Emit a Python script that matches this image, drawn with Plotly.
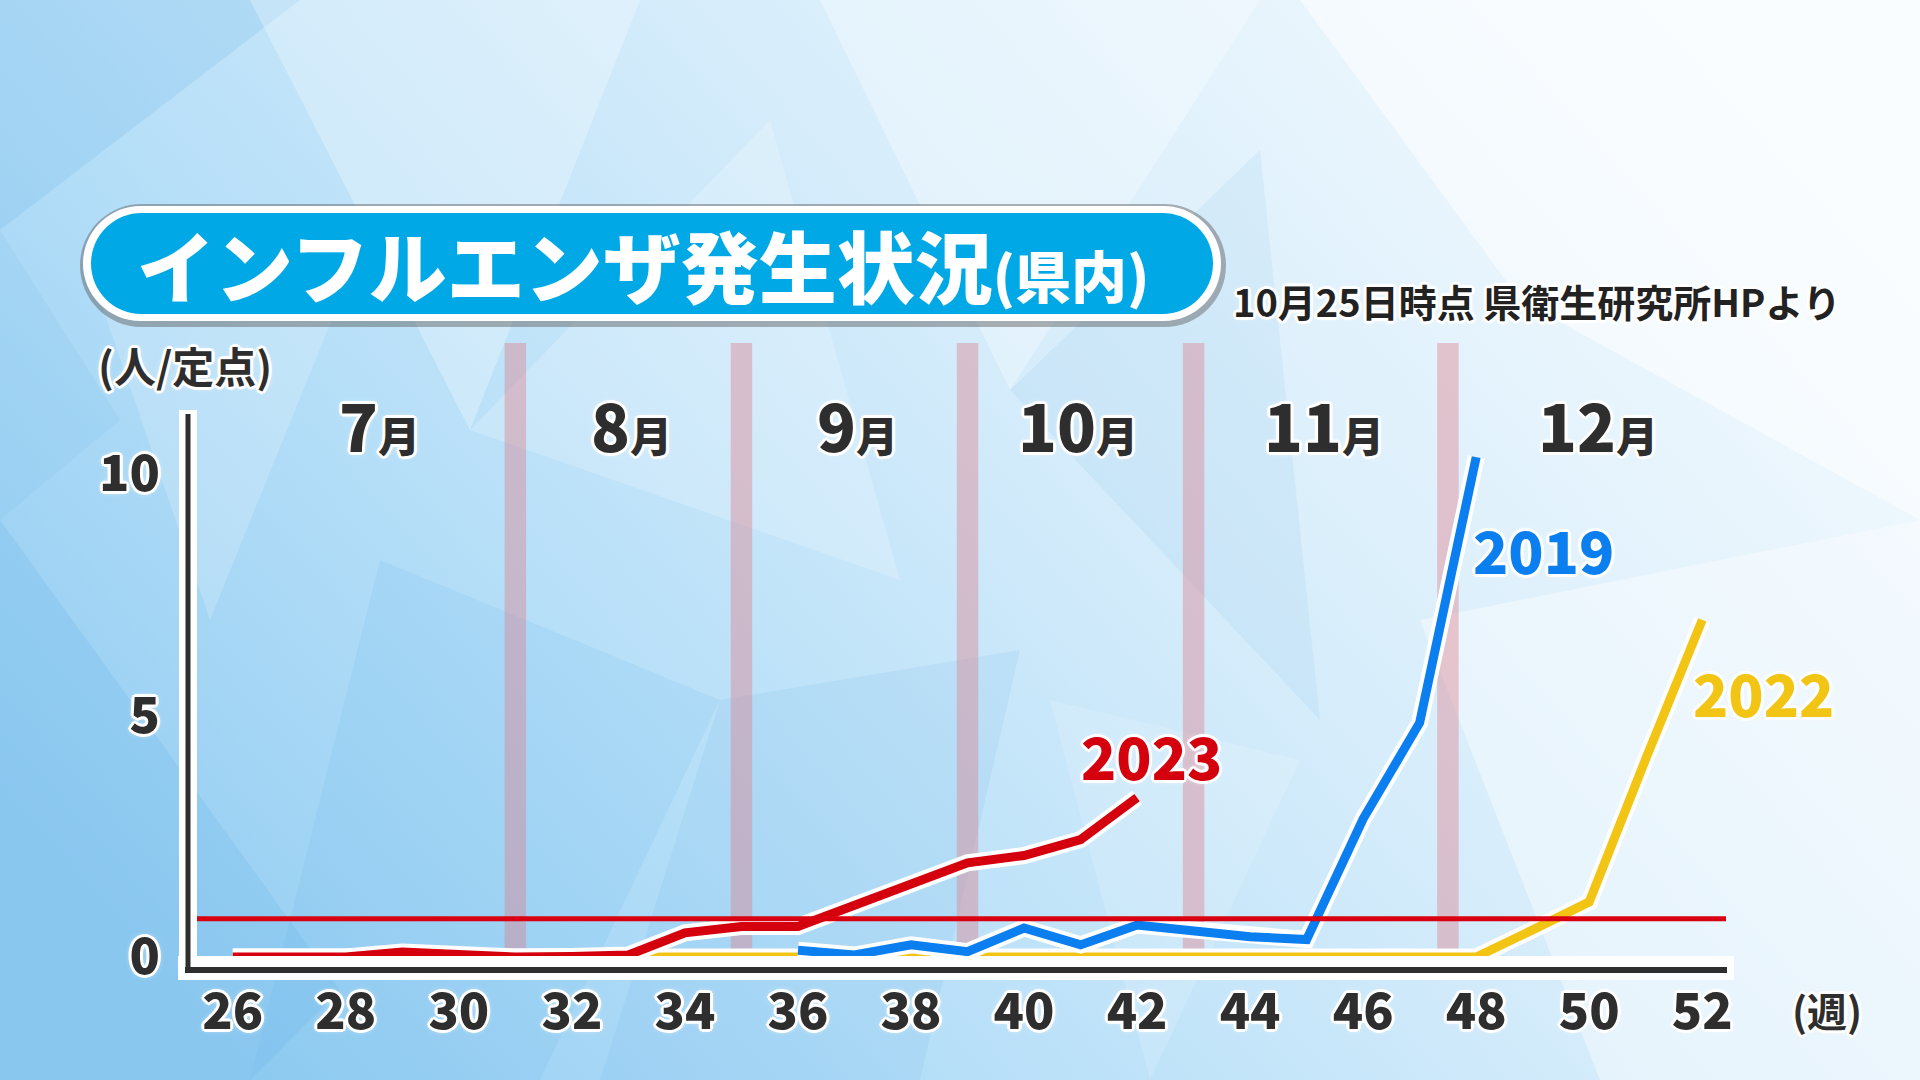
import base64
import plotly.graph_objects as go

# ---------------- data ----------------
weeks_2023 = [26, 27, 28, 29, 30, 31, 32, 33, 34, 35, 36, 37, 38, 39, 40, 41, 42]
vals_2023 = [0.0, 0.0, 0.0, 0.1, 0.04, 0.0, 0.01, 0.04, 0.5, 0.63, 0.63, 1.08, 1.5, 1.95, 2.1, 2.43, 3.3]

weeks_2019 = [36, 37, 38, 39, 40, 41, 42, 43, 44, 45, 46, 47, 48]
vals_2019 = [0.14, 0.04, 0.25, 0.11, 0.6, 0.25, 0.66, 0.54, 0.42, 0.36, 2.86, 4.85, 10.35]

weeks_2022 = [26, 27, 28, 29, 30, 31, 32, 33, 34, 35, 36, 37, 38, 39, 40, 41, 42, 43, 44, 45, 46, 47, 48,
              49, 50, 51, 52]
vals_2022 = [0, 0, 0, 0, 0, 0, 0, 0, 0, 0, 0, 0, 0, 0, 0, 0, 0, 0, 0, 0, 0, 0, 0,
             0.56, 1.14, 4.1, 6.98]

threshold = 0.79

x_ticks = [26, 28, 30, 32, 34, 36, 38, 40, 42, 44, 46, 48, 50, 52]
y_ticks = [0, 5, 10]
y_tick_text = ["0", "5", "10"]

month_labels = ["7", "8", "9", "10", "11", "12"]
month_centers = [28.6, 33.05, 37.05, 40.95, 45.3, 50.15]
month_bounds = [31, 35, 39, 43, 47.5]

series_names = ["2023", "2019", "2022"]
series_label_x = [42.25, 49.19, 53.08]
series_label_y = [4.18, 8.45, 5.49]

title_text = "インフルエンザ発生状況"
title_sub = "(県内)"
source_text = "10月25日時点 県衛生研究所HPより"
y_unit = "(人/定点)"
x_unit = "(週)"

# ---------------- layout geometry (pixels) ----------------
W, H = 1920, 1080
L, R, T, B = 187, 1726, 417, 970
x_range = [25.19, 52.42]
y_range = [-0.27, 11.18]


def px(x):
    return (x - L) / (R - L)


def py(y):
    return (B - y) / (B - T)


def data_to_paper_x(v):
    return (v - x_range[0]) / (x_range[1] - x_range[0])


def data_to_paper_y(v):
    return (v - y_range[0]) / (y_range[1] - y_range[0])


RED = "#D5000D"
BLUE = "#0C7FF0"
YELLOW = "#F2C515"
DARK = "#2E2E2E"
FONT = "Noto Sans CJK JP"
GLOW = ("3px 0 0 #fff, -3px 0 0 #fff, 0 3px 0 #fff, 0 -3px 0 #fff, "
        "2px 2px 0 #fff, -2px -2px 0 #fff, 2px -2px 0 #fff, -2px 2px 0 #fff, 0 0 6px #fff")

# ---------------- background svg ----------------
polys = [
    ("#5FAEE6", 0.18, "0,0 300,0 0,230"),
    ("#5FAEE6", 0.20, "0,520 340,990 250,1080 0,1080"),
    ("#FFFFFF", 0.28, "250,0 640,0 470,430"),
    ("#FFFFFF", 0.20, "470,430 770,120 900,580"),
    ("#5FAEE6", 0.13, "380,560 720,700 540,1080 250,1080"),
    ("#FFFFFF", 0.30, "820,0 1260,0 1010,390"),
    ("#5FAEE6", 0.10, "1010,390 1260,150 1320,720"),
    ("#FFFFFF", 0.50, "1300,0 1920,0 1920,520 1520,300"),
    ("#FFFFFF", 0.40, "1420,620 1920,520 1920,1080 1600,1080"),
    ("#5FAEE6", 0.12, "720,700 1020,650 920,1080 600,1080"),
    ("#FFFFFF", 0.18, "100,300 360,250 210,620"),
    ("#5FAEE6", 0.10, "0,230 120,420 0,520"),
    ("#FFFFFF", 0.15, "1050,700 1300,760 1150,1080"),
]
svg = [f"<svg xmlns='http://www.w3.org/2000/svg' width='{W}' height='{H}' viewBox='0 0 {W} {H}'>",
       "<defs><linearGradient id='g' x1='0' y1='0.75' x2='1' y2='0.25'>",
       "<stop offset='0' stop-color='#94CDF2'/>",
       "<stop offset='0.3' stop-color='#B6DFF8'/>",
       "<stop offset='0.6' stop-color='#D7EDFB'/>",
       "<stop offset='1' stop-color='#F4FAFE'/>",
       "</linearGradient></defs>",
       f"<rect width='{W}' height='{H}' fill='url(#g)'/>"]
for col, op, pts in polys:
    svg.append(f"<polygon points='{pts}' fill='{col}' fill-opacity='{op}'/>")
svg.append("</svg>")
bg_uri = "data:image/svg+xml;base64," + base64.b64encode("".join(svg).encode()).decode()

# ---------------- figure ----------------
fig = go.Figure()

series = [(weeks_2022, vals_2022, YELLOW), (weeks_2019, vals_2019, BLUE), (weeks_2023, vals_2023, RED)]
for xs, ys, col in series:
    fig.add_trace(go.Scatter(x=xs, y=ys, mode="lines", line=dict(color="white", width=17),
                             hoverinfo="skip", showlegend=False))
    fig.add_trace(go.Scatter(x=xs, y=ys, mode="lines", line=dict(color=col, width=9),
                             showlegend=False))

fig.add_trace(go.Scatter(x=x_range, y=[threshold, threshold], mode="lines",
                         line=dict(color="#D80010", width=5), showlegend=False, hoverinfo="skip"))

shapes = []
for b in month_bounds:
    shapes.append(dict(type="rect", xref="x", yref="paper", x0=b - 0.19, x1=b + 0.19,
                       y0=py(952), y1=py(343), fillcolor="rgba(222,128,140,0.42)",
                       line=dict(width=0), layer="below"))

# white outline of axes and axes lines
shapes.append(dict(type="rect", xref="paper", yref="paper", x0=px(178), x1=px(1734),
                   y0=py(980), y1=py(956), fillcolor="white", line=dict(width=0), layer="above"))
shapes.append(dict(type="rect", xref="paper", yref="paper", x0=px(179), x1=px(197),
                   y0=py(980), y1=py(410), fillcolor="white", line=dict(width=0), layer="above"))
shapes.append(dict(type="line", xref="paper", yref="paper", x0=px(188), x1=px(188),
                   y0=py(414), y1=py(973), line=dict(color=DARK, width=5), layer="above"))
shapes.append(dict(type="line", xref="paper", yref="paper", x0=px(185), x1=px(1727),
                   y0=py(970), y1=py(970), line=dict(color=DARK, width=6), layer="above"))


def pill(x0, y0, x1, y1):
    r = (y1 - y0) / 2
    cy = (y0 + y1) / 2
    k = 0.5523 * r
    pts = [
        ("M", [(x0 + r, y0)]),
        ("L", [(x1 - r, y0)]),
        ("C", [(x1 - r + k, y0), (x1, cy - k), (x1, cy)]),
        ("C", [(x1, cy + k), (x1 - r + k, y1), (x1 - r, y1)]),
        ("L", [(x0 + r, y1)]),
        ("C", [(x0 + r - k, y1), (x0, cy + k), (x0, cy)]),
        ("C", [(x0, cy - k), (x0 + r - k, y0), (x0 + r, y0)]),
    ]
    s = ""
    for cmd, ps in pts:
        s += cmd + " ".join(f"{px(a):.5f},{py(b):.5f}" for a, b in ps) + " "
    return s + "Z"


shapes.append(dict(type="path", xref="paper", yref="paper", path=pill(80, 204, 1226, 327),
                   fillcolor="rgba(90,90,90,0.45)", line=dict(width=0), layer="above"))
shapes.append(dict(type="path", xref="paper", yref="paper", path=pill(83, 206, 1221, 321),
                   fillcolor="white", line=dict(width=0), layer="above"))
shapes.append(dict(type="path", xref="paper", yref="paper", path=pill(91, 213, 1213, 314),
                   fillcolor="#00A9E6", line=dict(width=0), layer="above"))

ann = []
for lab, cx in zip(month_labels, month_centers):
    ann.append(dict(xref="x", yref="paper", x=cx, y=py(424), xanchor="center", yanchor="middle",
                    text=f"{lab}<span style='font-size:42px'>月</span>", showarrow=False,
                    font=dict(family=FONT, size=64, color=DARK, weight=900, shadow=GLOW)))

for name, sx, sy, col in zip(series_names, series_label_x, series_label_y, [RED, BLUE, YELLOW]):
    ann.append(dict(xref="paper", yref="paper", x=data_to_paper_x(sx), y=data_to_paper_y(sy),
                    xanchor="center", yanchor="middle",
                    text=name, showarrow=False,
                    font=dict(family=FONT, size=58, color=col, weight=900, shadow=GLOW)))

ann.append(dict(xref="paper", yref="paper", x=px(96), y=py(364), xanchor="left", yanchor="middle",
                text=y_unit, showarrow=False,
                font=dict(family=FONT, size=42, color=DARK, weight=700, shadow=GLOW)))
ann.append(dict(xref="paper", yref="paper", x=px(1827), y=py(1010), xanchor="center", yanchor="middle",
                text=x_unit, showarrow=False,
                font=dict(family=FONT, size=40, color=DARK, weight=700, shadow=GLOW)))
ann.append(dict(xref="paper", yref="paper", x=px(1231), y=py(300), xanchor="left", yanchor="middle",
                text=source_text, showarrow=False,
                font=dict(family=FONT, size=38, color="#222222", weight=700, shadow=GLOW)))
ann.append(dict(xref="paper", yref="paper", x=px(135), y=py(264), xanchor="left", yanchor="middle",
                text=f"{title_text}<span style='font-size:56px'>{title_sub}</span>", showarrow=False,
                font=dict(family=FONT, size=78, color="white", weight=900)))

fig.update_layout(
    width=W, height=H,
    margin=dict(l=L, r=W - R, t=T, b=H - B, pad=0),
    paper_bgcolor="#CFE8F8", plot_bgcolor="rgba(0,0,0,0)",
    showlegend=False,
    xaxis=dict(range=x_range, tickvals=x_ticks, ticktext=[str(v) for v in x_ticks],
               showgrid=False, zeroline=False, showline=False, ticks="",
               ticklabelstandoff=8,
               tickfont=dict(family=FONT, size=50, color=DARK, weight=900, shadow=GLOW)),
    yaxis=dict(range=y_range, tickvals=y_ticks, ticktext=y_tick_text,
               showgrid=False, zeroline=False, showline=False, ticks="",
               ticklabelstandoff=26,
               tickfont=dict(family=FONT, size=50, color=DARK, weight=900, shadow=GLOW)),
    shapes=shapes,
    annotations=ann,
    images=[dict(source=bg_uri, xref="paper", yref="paper", x=px(0), y=py(0),
                 sizex=W / (R - L), sizey=H / (B - T), xanchor="left", yanchor="top",
                 sizing="stretch", layer="below")],
)

fig.write_html("out.html")
